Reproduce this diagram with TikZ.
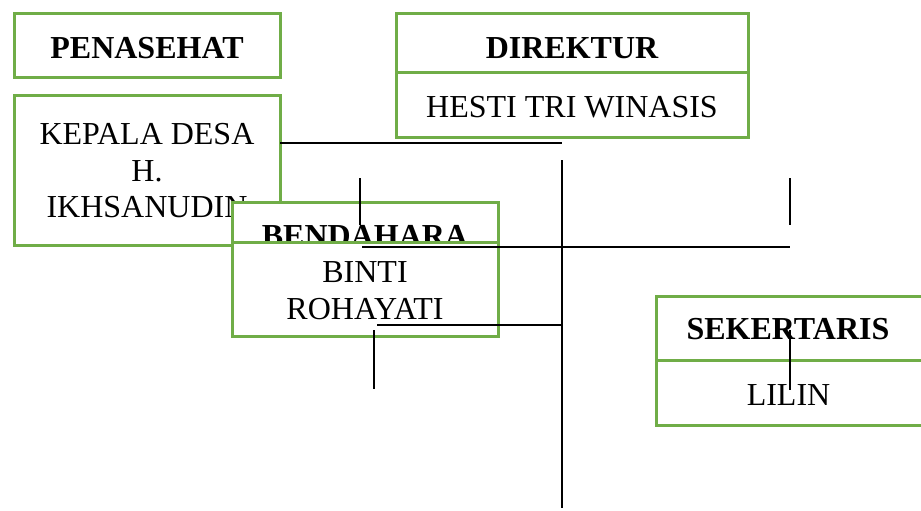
\documentclass[tikz,border=0pt]{standalone}
\usepackage{fontspec}
\setmainfont{Liberation Serif}
\definecolor{boxgreen}{HTML}{70AD47}
\begin{document}
\begin{tikzpicture}[x=1pt,y=-1pt,
	every node/.style={inner sep=0pt,outer sep=0pt},
	cell/.style={rectangle,draw=boxgreen,line width=3pt,fill=white},
	headtext/.style={font=\fontsize{32}{36.5}\selectfont\bfseries},
	persontext/.style={font=\fontsize{32}{36.5}\selectfont,align=center},
	link/.style={line width=2.4pt}]
\useasboundingbox (0,0) rectangle (921,511);
\node[cell,minimum width=266pt,minimum height=64pt] (penasehat) at (147,46) {};
\node[headtext] (penasehat text) at ([yshift=-2pt]penasehat) {PENASEHAT};
\node[cell,minimum width=266pt,minimum height=150pt] (kepala) at (147,170) {};
\node[persontext] (kepala text) at ([yshift=-0.7pt]kepala) {KEPALA DESA\\H.\\IKHSANUDIN};
\node[cell,minimum width=352pt,minimum height=59pt] (direktur) at (572,43.5) {};
\node[headtext] (direktur text) at ([yshift=-5pt]direktur) {DIREKTUR};
\node[cell,minimum width=352pt,minimum height=64pt] (hesti) at (572,105) {};
\node[persontext] (hesti text) at ([yshift=-2.5pt]hesti) {HESTI TRI WINASIS};
\node[cell,minimum width=266pt,minimum height=40pt] (bendahara) at (365,222) {};
\node[headtext] (bendahara text) at ([yshift=-13.5pt]bendahara) {BENDAHARA};
\node[cell,minimum width=266pt,minimum height=94pt] (binti) at (365,289) {};
\node[persontext] (binti text) at ([yshift=-1.5pt]binti) {BINTI\\ROHAYATI};
\node[cell,minimum width=268pt,minimum height=64pt] (sekertaris) at (790,328) {};
\node[headtext] (sekertaris text) at ([shift={(-2pt,-1.3pt)}]sekertaris) {SEKERTARIS};
\node[cell,minimum width=268pt,minimum height=65pt] (lilin) at (790,392.5) {};
\node[persontext] (lilin text) at ([shift={(-1.5pt,-3pt)}]lilin) {LILIN};
\coordinate (trunk cross) at (562,143);
\coordinate (trunk top) at (562,160);
\coordinate (trunk mid) at (562,325);
\coordinate (trunk bottom) at (562,508);
\coordinate (left stub top) at (360,178);
\coordinate (left stub bottom) at (360,225);
\coordinate (right stub top) at (790,178);
\coordinate (right stub bottom) at (790,225);
\coordinate (bar left) at (362,247);
\coordinate (bar right) at (790,247);
\coordinate (low bar left) at (377,325);
\coordinate (low stub top) at (374,330);
\coordinate (low stub bottom) at (374,389);
\coordinate (sek stub top) at (790,330);
\coordinate (sek stub bottom) at (790,390);
\draw[link] (kepala.east |- trunk cross) -- (trunk cross);
\draw[link] (trunk top) -- (trunk bottom);
\draw[link] (left stub top) -- (left stub bottom);
\draw[link] (right stub top) -- (right stub bottom);
\draw[link] (bar left) -- (bar right);
\draw[link] (low bar left) -- (trunk mid);
\draw[link] (low stub top) -- (low stub bottom);
\draw[link] (sek stub top) -- (sek stub bottom);
\end{tikzpicture}
\end{document}
